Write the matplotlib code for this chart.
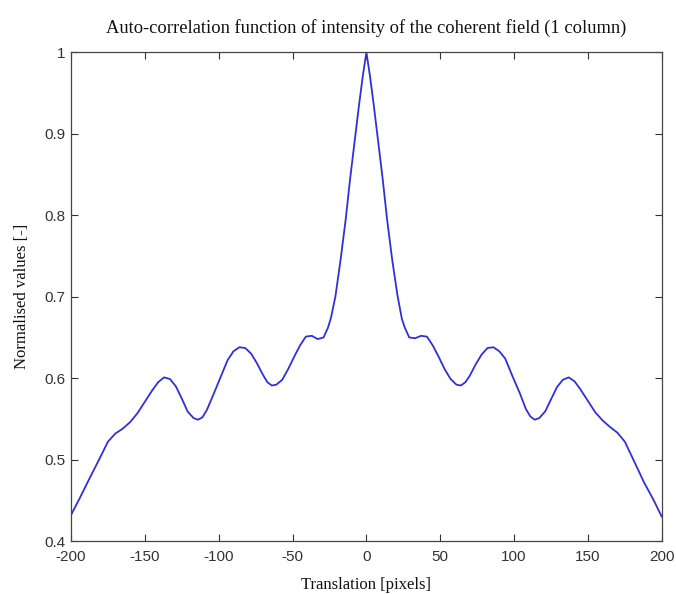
import matplotlib.pyplot as plt
from matplotlib.ticker import FixedLocator

plt.rcParams["axes.unicode_minus"] = False

# values (translation in pixels, normalised correlation)
shift = [-200, -194, -188, -181, -175, -170, -165, -160, -155, -150, -145,
         -141, -137, -133, -129, -125, -121, -117, -114, -111, -108, -104,
         -99, -94, -90, -86, -82, -78, -74, -70, -67, -64, -61, -57, -53,
         -49, -45, -41, -37, -33, -29, -26, -24, -21, -17.5, -14, -11, -8,
         -5, -2.5, 0,
         2.5, 5, 8, 11, 14, 17.5, 21, 24, 26, 29, 33, 37, 41, 45, 49, 53,
         57, 61, 64, 67, 70, 74, 78, 82, 86, 90, 94, 99, 104, 108, 111, 114,
         117, 121, 125, 129, 133, 137, 141, 145, 150, 155, 160, 165, 170,
         175, 181, 188, 194, 200]
corr = [0.432, 0.453, 0.475, 0.500, 0.522, 0.532, 0.538, 0.546, 0.557,
        0.571, 0.585, 0.595, 0.601, 0.599, 0.590, 0.575, 0.559, 0.551,
        0.549, 0.552, 0.561, 0.578, 0.600, 0.622, 0.633, 0.638, 0.637,
        0.630, 0.618, 0.604, 0.595, 0.591, 0.592, 0.598, 0.611, 0.626,
        0.640, 0.651, 0.652, 0.648, 0.650, 0.662, 0.674, 0.700, 0.745,
        0.795, 0.845, 0.890, 0.935, 0.970, 1.0,
        0.970, 0.935, 0.890, 0.845, 0.795, 0.745, 0.702, 0.673, 0.662,
        0.650, 0.649, 0.652, 0.651, 0.640, 0.626, 0.611, 0.599, 0.592,
        0.591, 0.595, 0.603, 0.617, 0.629, 0.637, 0.638, 0.633, 0.624,
        0.602, 0.581, 0.562, 0.553, 0.549, 0.551, 0.559, 0.574, 0.589,
        0.598, 0.601, 0.596, 0.586, 0.572, 0.558, 0.548, 0.540, 0.533,
        0.522, 0.499, 0.472, 0.452, 0.430]

x_ticks = [-200, -150, -100, -50, 0, 50, 100, 150, 200]
y_ticks = [0.4, 0.5, 0.6, 0.7, 0.8, 0.9, 1.0]
y_tick_labels = ["0.4", "0.5", "0.6", "0.7", "0.8", "0.9", "1"]

fig = plt.figure(figsize=(6.76, 5.94), dpi=100)
ax = fig.add_axes([0.105, 0.089, 0.874, 0.823])

ax.plot(shift, corr, color="#3030d8", linewidth=1.3)

ax.set_xlim(-200, 200)
ax.set_ylim(0.4, 1.0)
ax.xaxis.set_major_locator(FixedLocator(x_ticks))
ax.yaxis.set_major_locator(FixedLocator(y_ticks))
ax.set_yticklabels(y_tick_labels)

ax.tick_params(direction="in", length=5, width=0.8, top=True, right=True,
               labelsize=11, labelcolor="#333333", color="#333333")
ax.tick_params(axis="x", pad=6.5)
ax.tick_params(axis="y", pad=4.3)
for lab in ax.get_xticklabels() + ax.get_yticklabels():
    lab.set_family("Liberation Sans")
for s in ax.spines.values():
    s.set_color("#444444")
    s.set_linewidth(0.9)

serif = {"family": "Liberation Serif", "size": 12, "color": "#111111"}
ax.set_title("Auto-correlation function of intensity of the coherent field (1 column)",
             family="Liberation Serif", size=13.3, color="#111111", pad=14)
ax.set_xlabel("Translation [pixels]", fontdict=serif, labelpad=9)
ax.set_ylabel("Normalised values [-]", fontdict=serif, labelpad=10)

fig.savefig("out.png", dpi=100)
